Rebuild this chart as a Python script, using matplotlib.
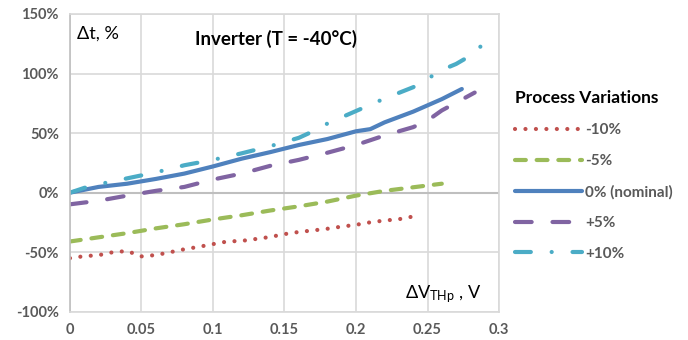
import matplotlib
matplotlib.use('Agg')
import matplotlib.pyplot as plt
from matplotlib.ticker import FuncFormatter

plt.rcParams['font.family'] = ['Lato', 'DejaVu Sans']
plt.rcParams['mathtext.fontset'] = 'custom'
plt.rcParams['mathtext.rm'] = 'Lato'
plt.rcParams['mathtext.it'] = 'Lato'

# data (x in V, y in %)
x_m10 = [0, 0.01, 0.02, 0.03, 0.04, 0.05, 0.06, 0.07, 0.08, 0.09, 0.10, 0.11, 0.12,
         0.13, 0.14, 0.15, 0.16, 0.17, 0.18, 0.19, 0.20, 0.21, 0.22, 0.23, 0.24]
y_m10 = [-55, -53.3, -52.5, -50, -49, -53.5, -52.4, -50, -47.5, -45.5, -43.2, -41, -40.5,
         -38.9, -37.2, -34.8, -33, -31.7, -30.3, -28.5, -27, -24.9, -23.4, -22.3, -20]

x_m5 = [0, 0.02, 0.04, 0.06, 0.08, 0.10, 0.12, 0.14, 0.16, 0.18, 0.20, 0.22, 0.24, 0.26]
y_m5 = [-41, -37.5, -34, -30, -26.5, -22.5, -19, -15, -11.5, -7.5, -2.5, 1.5, 4.5, 7.5]

x_0 = [0, 0.02, 0.04, 0.06, 0.08, 0.10, 0.12, 0.14, 0.16, 0.18, 0.20, 0.21, 0.22, 0.24,
       0.26, 0.274]
y_0 = [0, 4.8, 7.5, 11.5, 16, 22, 28.5, 34, 40, 45, 51.5, 53.3, 59, 68, 78.5, 87]

x_p5 = [0, 0.02, 0.04, 0.06, 0.08, 0.10, 0.12, 0.14, 0.16, 0.18, 0.20, 0.22, 0.24, 0.25,
        0.26, 0.27, 0.283]
y_p5 = [-9.8, -6.8, -2.5, 1.5, 4.8, 11, 16, 22.5, 27.5, 33.5, 40, 48, 55, 60.5, 69, 75.5, 84]

x_p10 = [0, 0.01, 0.02, 0.04, 0.06, 0.08, 0.10, 0.12, 0.14, 0.16, 0.17, 0.18, 0.20, 0.22,
         0.24, 0.25, 0.26, 0.27, 0.28, 0.289]
y_p10 = [0, 4, 7, 12, 17, 23, 27.5, 33, 39, 46, 51.5, 58, 68.5, 79, 88.5, 95.5, 103, 108,
         115, 124.7]

labels = ['-10%', '-5%', '0% (nominal)', '+5%', '+10%']
colors = ['#C0504D', '#9BBB59', '#4F81BD', '#8064A2', '#4BACC6']
styles = [(0, (0.01, 2.5)), (0, (2.6, 2.6)), '-', (0, (4, 5)), (0, (3.8, 5, 0.01, 5))]

xticks = [0, 0.05, 0.1, 0.15, 0.2, 0.25, 0.3]
yticks = [-100, -50, 0, 50, 100, 150]

fig = plt.figure(figsize=(6.88, 3.4), dpi=100)
ax = fig.add_axes([0.1017, 0.083, 0.6236, 0.876])

series = [(x_m10, y_m10), (x_m5, y_m5), (x_0, y_0), (x_p5, y_p5), (x_p10, y_p10)]
for (xs, ys), lab, c, ls in zip(series, labels, colors, styles):
    ax.plot(xs, ys, color=c, linestyle=ls, linewidth=3, label=lab,
            dash_capstyle='round', solid_capstyle='round')

ax.set_xlim(0, 0.3)
ax.set_ylim(-100, 150)
ax.set_xticks(xticks)
ax.set_yticks(yticks)
ax.xaxis.set_major_formatter(FuncFormatter(lambda v, p: f'{v:g}'))
ax.yaxis.set_major_formatter(FuncFormatter(lambda v, p: f'{v:.0f}%'))
ax.grid(True, color='#d9d9d9', linewidth=1.2)
ax.set_axisbelow(True)
ax.axhline(0, color='#bfbfbf', linewidth=1.5, zorder=1)
for s in ax.spines.values():
    s.set_color('#d9d9d9')
    s.set_linewidth(1.2)
ax.spines['left'].set_color('#bfbfbf')
ax.tick_params(length=0, labelsize=10.5, labelcolor='#595959', pad=8)
for t in ax.get_xticklabels() + ax.get_yticklabels():
    t.set_fontweight('bold')

ax.text(0.005, 129, 'Δt, %', fontsize=13, color='black')
ax.text(0.144, 124, 'Inverter (T = -40°C)', fontsize=13.5, fontweight='bold',
        color='black', ha='center')
ax.text(0.2875, -89, r'$\mathregular{\Delta V_{THp}}$ , V', fontsize=13, color='black',
        ha='right')

leg = ax.legend(loc='upper left', bbox_to_anchor=(1.005, 0.79), frameon=False,
                title='Process Variations', handlelength=4.4, handletextpad=0.2,
                labelspacing=1.1, fontsize=11)
leg.get_title().set_fontweight('bold')
leg.get_title().set_fontsize(12.5)
leg._legend_box.align = 'left'
for t in leg.get_texts():
    t.set_color('#595959')
    t.set_fontweight('bold')

fig.savefig('out.png', dpi=100)
